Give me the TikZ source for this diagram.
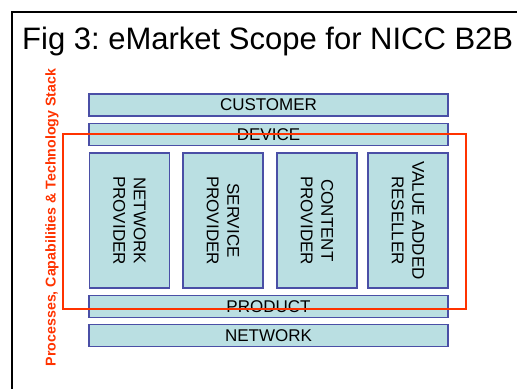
\documentclass[tikz,border=0pt]{standalone}
\usepackage{fontspec}
\setmainfont{Liberation Sans}
\frenchspacing
\definecolor{barfill}{HTML}{BADFE2}
\definecolor{bardraw}{HTML}{4A4FA6}
\definecolor{scopered}{HTML}{FF3300}

\begin{document}
\begin{tikzpicture}[
		x=1pt,y=-1pt,
		bar/.style={rectangle,draw=bardraw,fill=barfill,line width=1.2pt,
			minimum width=359pt,minimum height=22pt,inner sep=0pt,
			font=\fontsize{17}{20.5}\selectfont},
		role/.style={bar,minimum width=135pt,minimum height=80pt,
			align=center,rotate=-90},
		]
		\useasboundingbox (0,0) rectangle (517,389);
		% frame and title
		\draw[line width=1.6pt] (517,12) -- (12,12) -- (12,389);
		\node[anchor=base west,inner sep=0pt,font=\fontsize{31}{33}\selectfont] (title) at (22,49.5) {Fig 3: eMarket Scope for NICC B2B};
		\node[rotate=90,inner sep=0pt,text=scopered,font=\fontsize{14.2}{16}\selectfont\bfseries] (stack) at (52,217.5) {Processes, Capabilities \& Technology Stack};
		% layers
		\node[bar] (customer) at (268.5,105) {CUSTOMER};
		\node[bar] (device) at (268.5,134.5) {DEVICE};
		\node[role] (netprov) at (129.5,220.5) {NETWORK\\PROVIDER};
		\node[role] (servprov) at (223,220.5) {SERVICE\\PROVIDER};
		\node[role] (contprov) at (317,220.5) {CONTENT\\PROVIDER};
		\node[role] (resell) at (408,220.5) {VALUE ADDED\\RESELLER};
		\node[bar] (product) at (268.5,306.5) {PRODUCT};
		\node[bar] (network) at (268.5,335.5) {NETWORK};
		% scope
		\draw[scopered,line width=1.6pt] (63,134) rectangle (466,309);
	\end{tikzpicture}
\end{document}
